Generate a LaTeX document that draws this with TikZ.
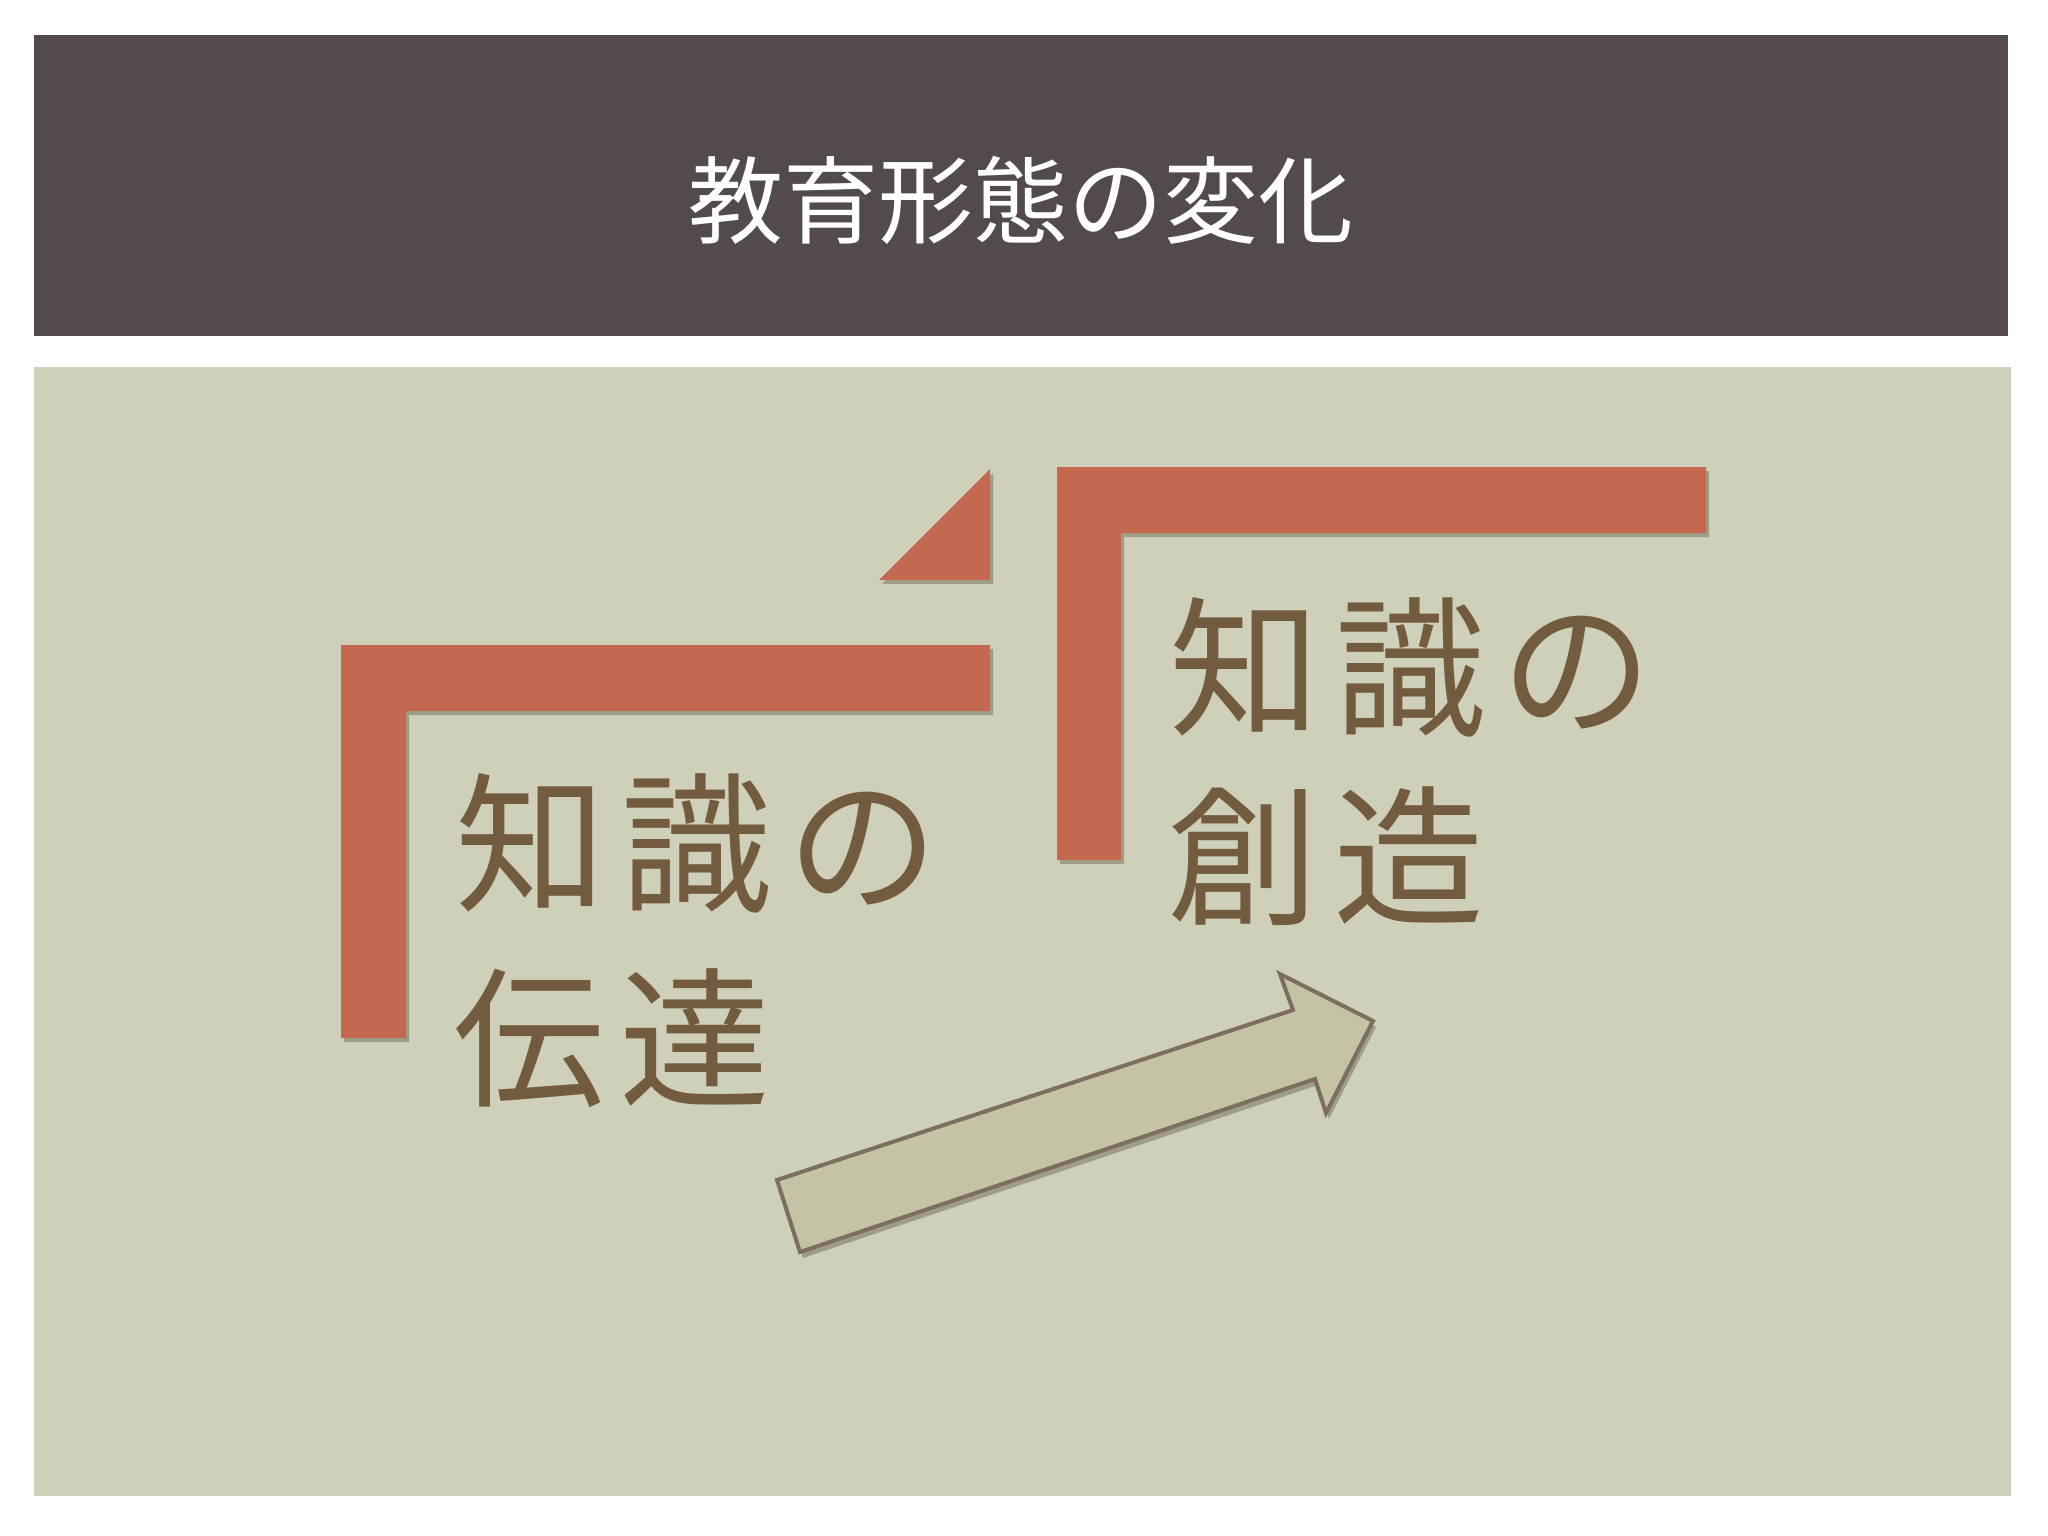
\documentclass[tikz,border=0pt]{standalone}
\usepackage{fontspec}
\newfontfamily\jp{Noto Sans CJK JP}
\newfontfamily\jpsp[LetterSpace=10]{Noto Sans CJK JP}
\usetikzlibrary{shadows}
\definecolor{barcol}{HTML}{534A4B}
\definecolor{panelcol}{HTML}{CED0B9}
\definecolor{lcol}{HTML}{C4684F}
\definecolor{txtcol}{HTML}{735B3E}
\definecolor{arrfill}{HTML}{C4C4A5}
\definecolor{arrline}{HTML}{7D6E60}
\tikzset{
  shd/.style={drop shadow={shadow xshift=3bp,shadow yshift=-4bp,fill=black!70!olive,opacity=.35}},
  lshape/.style={fill=lcol,shd},
  bigtxt/.style={text=txtcol,font=\jpsp\fontsize{151bp}{190bp}\selectfont,inner sep=0pt,anchor=base west},
  titletxt/.style={text=white,font=\jp\fontsize{95bp}{110bp}\selectfont,inner sep=0pt,anchor=base}
}
\begin{document}
\begin{tikzpicture}[x=1bp,y=-1bp]
\fill[white] (0,0) rectangle (2048,1536);
\fill[barcol] (34,35) rectangle (2008,336);
\fill[panelcol] (34,367) rectangle (2011,1496);
\node[titletxt] (title) at (1021,236) {教育形態の変化};
% left L and triangle
\path[lshape] (341,645) -- (990,645) -- (990,711) -- (406,711) -- (406,1038) -- (341,1038) -- cycle;
\path[lshape] (990,469) -- (990,580) -- (879,580) -- cycle;
% right L
\path[lshape] (1057,467) -- (1706,467) -- (1706,533) -- (1121,533) -- (1121,860) -- (1057,860) -- cycle;
% texts
\node[bigtxt] (l1) at (455,900) {知識の};
\node[bigtxt] (l2) at (453,1095) {伝達};
\node[bigtxt] (r1) at (1169,724) {知識の};
\node[bigtxt] (r2) at (1167,913) {創造};
% arrow
\path[fill=arrfill,draw=arrline,line width=4bp,line join=miter,
  drop shadow={shadow xshift=3bp,shadow yshift=-6bp,fill=black!70!olive,opacity=.35}]
  (777,1180) -- (1293,1010) -- (1280,974) -- (1373,1021) -- (1326,1113) -- (1315,1079) -- (800,1252) -- cycle;
\end{tikzpicture}
\end{document}
